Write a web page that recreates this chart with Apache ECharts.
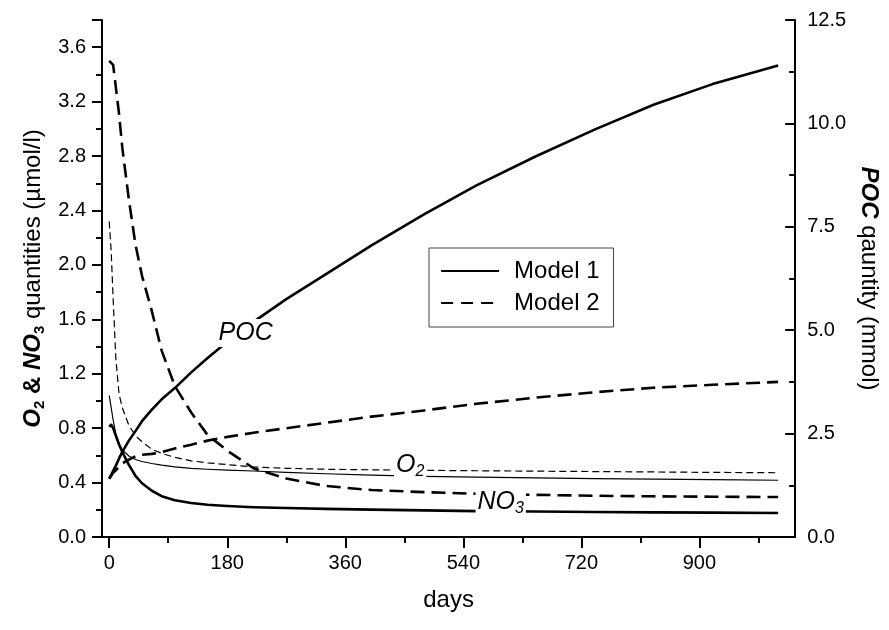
<!DOCTYPE html>
<html>
<head>
<meta charset="utf-8">
<script src="https://cdn.jsdelivr.net/npm/echarts@6/dist/echarts.min.js"></script>
<style>html,body{margin:0;padding:0;background:#fff;}#c{width:889px;height:630px;}</style>
</head>
<body>
<div id="c"></div>
<script>
// ---- data ----
const days = [0,3,6,10,15,20,30,40,50,65,80,100,125,150,180,220,270,330,400,480,560,650,740,830,920,1020];
// Model 1 (solid)
const m1_NO3 = [0.81,0.825,0.80,0.745,0.68,0.625,0.53,0.45,0.395,0.34,0.30,0.27,0.25,0.237,0.228,0.219,0.213,0.207,0.201,0.196,0.19,0.187,0.184,0.181,0.179,0.176];
const m1_O2  = [1.04,0.95,0.86,0.76,0.685,0.64,0.595,0.57,0.555,0.54,0.528,0.515,0.505,0.498,0.492,0.485,0.475,0.465,0.455,0.446,0.44,0.434,0.429,0.425,0.421,0.417];
const m1_POC = [1.41,1.5,1.6,1.72,1.9,2.06,2.33,2.56,2.8,3.08,3.33,3.6,3.98,4.33,4.72,5.2,5.75,6.35,7.05,7.8,8.5,9.2,9.85,10.45,10.95,11.4];
// Model 2 (dashed)
const m2_NO3 = [3.50,3.51,3.47,3.31,3.11,2.86,2.48,2.15,1.92,1.66,1.37,1.11,0.915,0.75,0.635,0.505,0.43,0.375,0.345,0.33,0.318,0.31,0.303,0.299,0.296,0.294];
const m2_O2  = [2.32,2.1,1.75,1.32,1.05,0.95,0.82,0.745,0.70,0.645,0.615,0.585,0.56,0.545,0.532,0.515,0.505,0.498,0.494,0.49,0.487,0.484,0.481,0.478,0.475,0.472];
const m2_POC = [1.41,1.48,1.55,1.61,1.70,1.78,1.87,1.95,1.99,2.01,2.05,2.14,2.23,2.33,2.42,2.52,2.63,2.76,2.91,3.06,3.22,3.37,3.5,3.61,3.68,3.75];

// axis ticks / labels
const xMajor = [0,180,360,540,720,900];
const xMinor = [90,270,450,630,810,990];
const yLeftMajor = [0,0.4,0.8,1.2,1.6,2.0,2.4,2.8,3.2,3.6,3.8];
const yLeftLabels = [0,0.4,0.8,1.2,1.6,2.0,2.4,2.8,3.2,3.6];
const yLeftMinor = [0.2,0.6,1.0,1.4,1.8,2.2,2.6,3.0,3.4];
const yRightMinor = [1.25,3.75,6.25,8.75,11.25];

// in-plot curve labels (anchor in left-axis units)
const labelTexts = ['{i|POC}', '{i|O}{s|2}', '{i|NO}{s|3}'];
const labelDays  = [208, 459, 597];
const labelVals  = [1.50, 0.527, 0.255];

const FONT = '"Liberation Sans", Arial, Helvetica, sans-serif';
const TITLE = 24;
const pairs = (ys) => days.map((d, i) => [d, ys[i]]);

const THICK = 2.6, THIN = 1.2;
const dashThick = [14, 7], dashThin = [7, 4];

function lineSeries(name, ys, yIdx, width, type) {
  return {
    type: 'line', name: name, data: pairs(ys), xAxisIndex: 0, yAxisIndex: yIdx,
    symbol: 'none', showSymbol: false, smooth: false,
    lineStyle: { color: '#000', width: width, type: type, cap: 'butt', join: 'round' },
    itemStyle: { color: '#000' }, z: 2, silent: true
  };
}

const chart = echarts.init(document.getElementById('c'), null, { renderer: 'canvas' });
const axisLineStyle = { color: '#000', width: 2 };

chart.setOption({
  animation: false,
  backgroundColor: '#fff',
  textStyle: { fontFamily: FONT, color: '#000' },
  grid: { left: 102, right: 87, top: 20, bottom: 93, containLabel: false },
  legend: {
    orient: 'vertical', left: 429, top: 248,
    padding: [11, 14, 12, 11], itemGap: 8, itemWidth: 58, itemHeight: 14,
    borderColor: '#444', borderWidth: 1, backgroundColor: '#fff',
    textStyle: { fontFamily: FONT, fontSize: 24, color: '#000', padding: [0, 0, 0, 10] },
    data: [
      { name: 'Model 1', lineStyle: { width: 2.2, type: 'solid', color: '#000' }, itemStyle: { color: 'rgba(0,0,0,0)', borderWidth: 0 } },
      { name: 'Model 2', lineStyle: { width: 2.2, type: [12, 8], color: '#000' }, itemStyle: { color: 'rgba(0,0,0,0)', borderWidth: 0 } }
    ]
  },
  xAxis: [
    {
      type: 'value', min: -11, max: 1046, position: 'bottom',
      axisLine: { show: true, onZero: false, lineStyle: axisLineStyle },
      axisTick: { show: true, customValues: xMajor, length: 11, lineStyle: { width: 2, color: '#000' } },
      axisLabel: { show: true, customValues: xMajor, fontSize: 20, margin: 16, color: '#000', fontFamily: FONT },
      splitLine: { show: false },
      name: 'days', nameLocation: 'middle', nameGap: 51,
      nameTextStyle: { fontSize: TITLE, fontFamily: FONT, color: '#000' }
    },
    {
      type: 'value', min: -11, max: 1046, position: 'bottom',
      axisLine: { show: false, onZero: false },
      axisTick: { show: true, customValues: xMinor, length: 6, lineStyle: { width: 2, color: '#000' } },
      axisLabel: { show: false }, splitLine: { show: false }
    }
  ],
  yAxis: [
    {
      type: 'value', min: 0, max: 3.8, position: 'left',
      axisLine: { show: true, onZero: false, lineStyle: axisLineStyle },
      axisTick: { show: true, customValues: yLeftMajor, length: 10, lineStyle: { width: 2, color: '#000' } },
      axisLabel: { show: true, customValues: yLeftLabels, fontSize: 20, margin: 16, color: '#000', fontFamily: FONT,
        formatter: (v) => Number(v).toFixed(1) },
      splitLine: { show: false },
      name: '{b|O}{bs|2}{a| & }{b|NO}{bs|3}{n| quantities (µmol/l)}',
      nameLocation: 'middle', nameRotate: 90, nameGap: 50,
      nameTextStyle: {
        fontFamily: FONT, fontSize: TITLE, color: '#000',
        rich: {
          b: { fontFamily: FONT, fontSize: TITLE, fontWeight: 'bold', fontStyle: 'italic', lineHeight: 28, color: '#000' },
          bs: { fontFamily: FONT, fontSize: 15, fontWeight: 'bold', lineHeight: 6, verticalAlign: 'bottom', color: '#000' },
          a: { fontFamily: FONT, fontSize: TITLE, fontWeight: 'bold', lineHeight: 28, color: '#000' },
          n: { fontFamily: FONT, fontSize: TITLE, lineHeight: 28, color: '#000' }
        }
      }
    },
    {
      type: 'value', min: 0, max: 12.5, interval: 2.5, position: 'right',
      axisLine: { show: true, onZero: false, lineStyle: axisLineStyle },
      axisTick: { show: true, inside: true, length: 10, lineStyle: { width: 2, color: '#000' } },
      axisLabel: { show: true, fontSize: 20, margin: 12, color: '#000', fontFamily: FONT,
        formatter: (v) => Number(v).toFixed(1) },
      splitLine: { show: false },
      name: '{b|POC}{n| qauntity (mmol)}',
      nameLocation: 'middle', nameRotate: -90, nameGap: 42,
      nameTextStyle: {
        fontFamily: FONT, fontSize: TITLE, color: '#000',
        rich: {
          b: { fontFamily: FONT, fontSize: TITLE, fontWeight: 'bold', fontStyle: 'italic', lineHeight: 28, color: '#000' },
          n: { fontFamily: FONT, fontSize: TITLE, lineHeight: 28, color: '#000' }
        }
      }
    },
    {
      type: 'value', min: 0, max: 3.8, position: 'left',
      axisLine: { show: false, onZero: false },
      axisTick: { show: true, customValues: yLeftMinor, length: 6, lineStyle: { width: 2, color: '#000' } },
      axisLabel: { show: false }, splitLine: { show: false }
    },
    {
      type: 'value', min: 0, max: 12.5, position: 'right',
      axisLine: { show: false, onZero: false },
      axisTick: { show: true, inside: true, customValues: yRightMinor, length: 6, lineStyle: { width: 2, color: '#000' } },
      axisLabel: { show: false }, splitLine: { show: false }
    }
  ],
  series: [
    lineSeries('Model 1', m1_NO3, 0, THICK, 'solid'),
    lineSeries('Model 1', m1_O2, 0, THIN, 'solid'),
    lineSeries('Model 1', m1_POC, 1, THICK, 'solid'),
    lineSeries('Model 2', m2_NO3, 0, THICK, dashThick),
    lineSeries('Model 2', m2_O2, 0, THIN, dashThin),
    lineSeries('Model 2', m2_POC, 1, THICK, dashThick),
    {
      type: 'scatter', name: 'labels', xAxisIndex: 0, yAxisIndex: 0, z: 10, silent: true,
      symbolSize: 0, itemStyle: { opacity: 1, color: '#000' },
      emphasis: { disabled: true },
      data: labelDays.map((d, i) => [d, labelVals[i]]),
      label: {
        show: true, position: 'inside', opacity: 1, color: '#000', textBorderWidth: 0,
        formatter: (p) => labelTexts[p.dataIndex],
        backgroundColor: '#fff', padding: [0, 2, 0, 2],
        rich: {
          i: { fontFamily: FONT, fontSize: 25, fontStyle: 'italic', lineHeight: 28, color: '#000', textBorderWidth: 0 },
          s: { fontFamily: FONT, fontSize: 16, fontStyle: 'italic', lineHeight: 6, verticalAlign: 'bottom', color: '#000', textBorderWidth: 0 }
        }
      }
    }
  ]
});
</script>
</body>
</html>
